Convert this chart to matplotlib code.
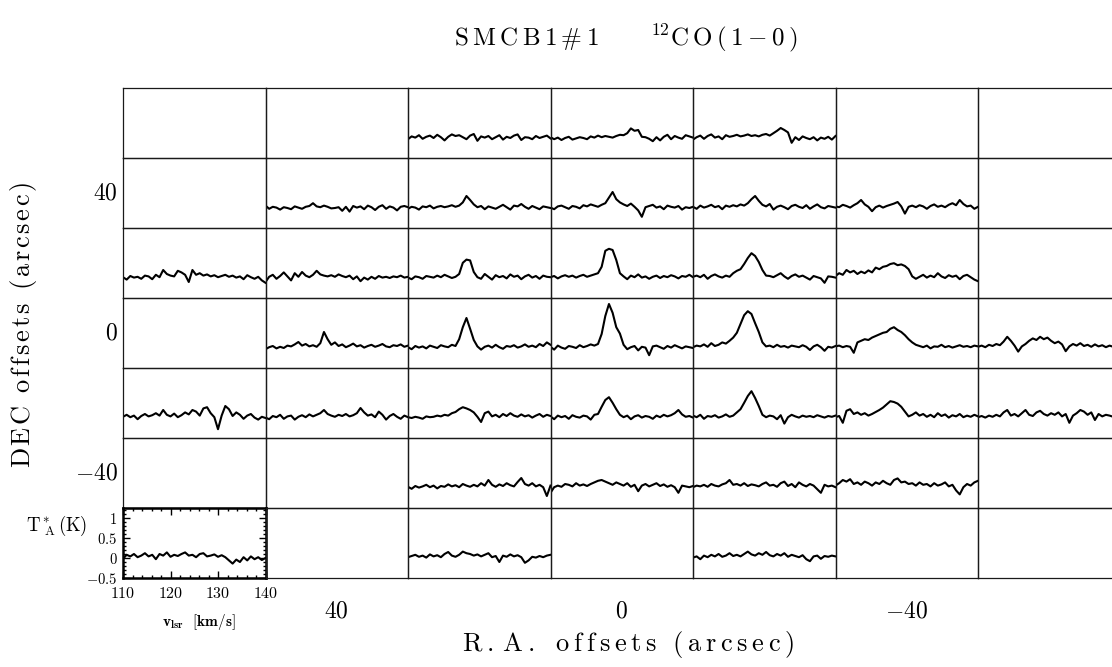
import numpy as np
import matplotlib.pyplot as plt
from matplotlib.ticker import MultipleLocator

plt.rcParams['mathtext.fontset'] = 'cm'

# grid of map positions (arcsec)
ra_offsets = [60, 40, 20, 0, -20, -40, -60]
dec_offsets = [60, 40, 20, 0, -20, -40, -60]

# velocity range of every spectrum (km/s) and T*A range (K)
v_range = (110, 140)
t_range = (-0.5, 1.25)

# spectra, T*A in units of 0.01 K, channels spread evenly over v_range
# DEC +60
t_p60_p20 = [-3, 4, 1, 7, -2, 3, 6, 0, 8, 2, -6, 3, 9, 5, 7, 2, -3, 6, 10, -7, 4, 1, 5, -3, 2, 7, -4, 3, 0, 6, 9, -5, 2, 1, -3, 5, 0, 3, 6, -1]
t_p60_0 = [2, -3, 1, -5, 0, 3, -4, -1, 2, 0, -3, 4, 1, 6, 2, 5, 3, 1, 5, 8, 7, 12, 24, 18, 20, 3, 2, -2, -8, 2, -6, 3, 8, -3, 5, 1, -2, 7, 4, 1]
t_p60_m20 = [-4, 2, 6, -2, 5, 9, 1, 4, -3, 7, 3, 5, 8, 4, 6, 9, 5, 7, 4, 8, 10, 6, 12, 18, 25, 20, 14, -12, 2, -5, 4, 0, -3, 2, -6, 1, -2, 3, -4, 5]
# DEC +40
t_p40_p40 = [6, -2, 3, 1, -4, 2, 0, -3, 4, 1, -2, 3, 5, 12, 4, 2, 6, 3, -1, 0, 2, -7, 3, -9, 5, 1, 4, -3, 6, 2, -5, 3, 7, -2, 4, 1, -6, 3, 5, 2]
t_p40_p20 = [-2, 3, 1, -4, 4, 2, 6, -1, 3, 5, 2, 4, 7, 3, 6, 14, 30, 20, 9, 2, 5, -3, 4, 1, -2, 3, 8, 2, -4, 6, 4, 10, 3, -2, 5, 1, -3, 4, 2, 0]
t_p40_0 = [1, -3, 4, 6, 2, -2, 5, 3, -1, 7, 4, 9, 6, 3, 8, 12, 26, 40, 22, 14, 9, 5, 11, 3, -6, -22, 2, 5, 8, 1, 4, -3, 6, 3, 1, 5, -4, 2, 0, 3]
t_p40_m20 = [3, -2, 6, 1, 4, 8, 2, 5, -3, 6, 3, 7, 4, 9, 6, 12, 22, 30, 18, 8, 4, 10, -4, 3, 6, 2, -3, 5, 8, 3, 0, 7, -2, 4, 9, 2, -1, 5, 3, 1]
t_p40_m40 = [4, 2, 8, 5, 1, 7, 12, 20, 9, 3, -8, 2, 6, 1, 5, 8, 11, 15, 4, -14, 3, 6, 2, 7, 4, -2, 5, 9, 3, 6, 2, 8, 12, 7, 20, 10, 4, 6, -2, 3]
# DEC +20
t_p20_p60 = [2, -4, 5, 1, 3, -2, 6, 4, -3, 8, 2, 20, 10, 6, 4, 18, 14, 8, -10, 20, 8, 12, 6, 9, 4, 7, 2, 5, 8, 3, 6, 1, 4, -3, 7, 2, -2, 3, -6, -12]
t_p20_p40 = [-10, 3, 8, -2, 5, 14, 4, -6, 12, 3, 15, 6, 2, 8, 18, 9, 6, 4, 7, 3, 9, 5, 2, 6, -3, 4, -8, 1, -4, 3, -2, 5, 1, 3, 0, 4, 2, 6, 1, 3]
t_p20_p20 = [1, -3, 4, 2, -2, 5, 3, 1, 6, 2, 8, 4, 0, 3, 10, 38, 46, 44, 15, 2, -2, 10, 3, -4, 7, 2, 5, -1, 9, 3, 6, -3, 4, 8, 1, 5, -2, 6, 3, 2]
t_p20_0 = [2, 5, -1, 4, 7, 3, 6, 1, 5, 8, 3, 6, 9, 12, 28, 68, 73, 70, 45, 12, 4, -3, 6, 2, 9, 1, 4, -2, 3, 6, 0, 5, 2, 7, 4, -1, 5, 3, 8, 2]
t_p20_m20 = [3, 6, 2, 8, -2, 5, 9, 4, 1, 6, 3, 12, 18, 22, 35, 50, 62, 55, 40, 20, 6, 5, 2, 7, 12, 4, -2, 5, 9, 3, 6, 1, -4, 5, 2, -1, -12, 4, 3, 1]
t_p20_m40 = [5, 12, 8, 20, 14, 18, 10, 16, 12, 19, 14, 26, 22, 28, 30, 35, 37, 32, 34, 30, 22, 4, -2, 3, 8, 1, 6, 2, 12, 4, 0, 7, 3, 6, -3, 5, 8, 2, -4, -8]
# DEC 0
t_0_p40 = [-3, 2, 5, -1, 3, 0, 6, 4, 9, 15, 6, 10, 4, 7, 3, 12, 40, 22, 8, 14, 5, 9, 2, 6, 11, 4, 7, 1, 5, 8, 3, 6, 10, 4, 2, 7, 5, 9, 3, 6]
t_0_p20 = [2, -3, 5, 1, 4, -1, 6, 3, 0, 7, 4, 2, 8, 5, 22, 52, 75, 48, 20, 4, -4, 3, 6, 1, 8, 2, -2, 5, 3, 7, 1, 4, 9, 3, 6, 2, 10, 5, 14, 8]
t_0_0 = [3, -4, 6, 1, -2, 5, 3, 0, 7, 2, 5, 9, 6, 10, 35, 80, 110, 88, 52, 36, 8, -3, 2, 5, -6, 3, 1, -18, 4, 6, 2, -2, 5, 1, 7, 3, -1, 4, 2, 0]
t_0_m20 = [2, 6, 4, 9, 3, 12, 5, 8, 14, 11, 18, 26, 38, 60, 82, 92, 85, 62, 40, 14, 4, 6, 2, 8, 3, 5, 1, 6, 4, 2, 7, 3, -5, 4, 8, 2, -7, 3, 1, 5]
t_0_m40 = [4, 6, 2, 5, 3, -12, 14, 18, 22, 20, 26, 30, 34, 38, 40, 48, 52, 45, 40, 32, 22, 14, 8, 5, 2, 6, -1, 4, 3, 8, 2, 5, 1, 4, 7, 3, 5, 2, 6, 4]
t_0_m60 = [3, 6, 2, 8, 5, 10, 7, 16, 28, 18, 6, -9, 4, 10, 18, 24, 20, 28, 22, 26, 18, 12, 16, 9, -8, 4, 10, 6, 12, 5, 8, 3, 9, 4, 7, 2, 6, 3, 5, 4]
# DEC -20
t_m20_p60 = [3, 8, 2, 6, -3, 5, 10, 4, 7, 12, 6, 20, 8, 4, 11, 2, 7, 14, 9, 20, 16, 6, 24, 27, 12, 2, -28, 6, 30, 22, 5, 14, 8, -2, 6, 10, 1, -4, 3, 0]
t_m20_p40 = [1, -3, 5, 2, 8, -2, 4, 6, -4, 3, 7, 2, 9, 4, 8, 12, 20, 10, 6, 3, 8, 5, 10, 4, 7, 12, 25, 14, 6, 9, 2, 16, 8, -4, 5, 10, 3, -2, 6, 2]
t_m20_p20 = [2, 0, 3, 1, -2, 4, 2, 3, 6, 4, 8, 6, 12, 15, 22, 27, 24, 20, 14, 3, -10, 12, 16, 4, 8, 2, 10, 5, 12, 6, 3, 9, 4, 7, 1, 6, 10, 3, 8, 5]
t_m20_0 = [4, -3, 6, 2, 5, -2, 7, 3, 1, 6, 4, -4, 8, 10, 28, 45, 52, 38, 22, 8, 2, 6, -3, 4, 7, 1, 5, 3, -2, 6, 2, 8, 4, 7, 12, 20, 9, 3, 5, 1]
t_m20_m20 = [6, 2, 8, -2, 5, 3, 7, 1, 4, 9, 3, 6, 14, 22, 38, 55, 67, 50, 30, 8, 2, 6, 4, -3, 7, -14, 2, 8, 4, 1, 6, 3, 5, 2, 7, 4, 1, 5, 3, 6]
t_m20_m40 = [2, 5, -12, 18, 22, 10, 14, 8, 12, 6, 10, 15, 20, 26, 34, 42, 40, 36, 28, 16, 4, 8, 14, 6, 10, 3, 8, 2, 12, 5, 9, 1, 7, 4, 10, 2, 6, 3, 8, 4]
t_m20_m60 = [2, 5, 1, 6, 3, 8, 4, 14, 20, 6, 10, 4, 12, 20, 8, 5, 14, 18, 10, 6, 12, 8, 14, 4, 10, -12, 6, 12, 20, 16, 8, 14, -5, 10, 4, 8, 6, 3, 5, 2]
# DEC -40
t_m40_p20 = [3, -2, 5, 1, 4, 8, 2, 6, -1, 5, 3, 9, 4, 7, 2, 10, 6, 3, 8, 4, 12, 6, 20, 8, 3, 9, 5, 12, 7, 4, 15, 25, 10, 6, 12, 4, 8, 2, -20, 6]
t_m40_0 = [-12, 2, 6, 3, 10, 8, 4, 12, 6, 9, 5, 10, 14, 18, 20, 16, 12, 8, 14, 10, 6, 12, 3, 8, -8, 6, 10, 4, 8, 12, 5, 9, 3, 7, 2, -12, 6, 4, 2, 5]
t_m40_m20 = [2, 6, 4, 8, 3, 10, 6, 4, 9, 12, 20, 8, 10, 6, 12, 5, 9, 7, 4, 10, 14, 6, 8, 3, 12, 16, 5, 10, 2, 14, 8, 4, 10, 6, -3, -12, 8, 4, 6, 2]
t_m40_m40 = [6, 12, 20, 16, 22, 10, 14, 8, 16, 12, 6, 14, 10, 18, 12, 8, 20, 24, 14, 16, 10, 12, 6, 14, 8, 10, 4, 12, 6, 9, 14, 4, 8, -6, -16, 2, 10, 6, 14, 18]
# DEC -60
t_m60_p60 = [-2, 8, 4, 10, 2, 6, 12, 4, 8, -3, 10, 6, 14, 3, 8, 5, 10, 14, 6, 8, 2, 10, 12, 4, 6, 9, 3, 7, 2, -6, -14, -4, -10, 2, -6, 4, -3, 2, -5, 0]
t_m60_p20 = [2, 5, 8, 3, 6, 1, 9, 4, 7, 2, 10, 15, 6, 3, 8, 16, 12, 10, 6, 9, 4, 8, 12, 2, 5, -10, 6, 3, 9, 4, 7, 2, -12, -6, 3, 1, 5, 2, 6, 8]
t_m60_m20 = [1, 4, -3, 6, 2, 8, 4, 10, 3, 6, 12, 5, 8, 4, 10, 16, 9, 6, 12, 8, 15, 7, 4, 10, 6, 12, 3, 8, 5, 2, 7, -3, -8, 4, 6, -2, 5, 3, 6, 4]

# (dec, ra, spectrum)
spectra = [
    (60, 20, t_p60_p20), (60, 0, t_p60_0), (60, -20, t_p60_m20),
    (40, 40, t_p40_p40), (40, 20, t_p40_p20), (40, 0, t_p40_0), (40, -20, t_p40_m20), (40, -40, t_p40_m40),
    (20, 60, t_p20_p60), (20, 40, t_p20_p40), (20, 20, t_p20_p20), (20, 0, t_p20_0), (20, -20, t_p20_m20), (20, -40, t_p20_m40),
    (0, 40, t_0_p40), (0, 20, t_0_p20), (0, 0, t_0_0), (0, -20, t_0_m20), (0, -40, t_0_m40), (0, -60, t_0_m60),
    (-20, 60, t_m20_p60), (-20, 40, t_m20_p40), (-20, 20, t_m20_p20), (-20, 0, t_m20_0), (-20, -20, t_m20_m20), (-20, -40, t_m20_m40), (-20, -60, t_m20_m60),
    (-40, 20, t_m40_p20), (-40, 0, t_m40_0), (-40, -20, t_m40_m20), (-40, -40, t_m40_m40),
    (-60, 60, t_m60_p60), (-60, 20, t_m60_p20), (-60, -20, t_m60_m20),
]

ra_ticks = [40, 0, -40]
dec_ticks = [40, 0, -40]

W, H = 1112, 667
x0, y0, cw, ch = 123, 88, 142.5, 70   # grid geometry in pixels


def cell_rect(col, row):
    return [(x0 + col * cw) / W, 1 - (y0 + (row + 1) * ch) / H, cw / W, ch / H]


def tracked(s, gap):
    # roman text with a little extra space between letters
    parts = []
    for c in s:
        if c == ' ':
            parts.append(r'\ ')
        elif c == '#':
            parts.append(r'\mathrm{\#}')
        else:
            parts.append(r'\mathrm{%s}' % c)
    return (r'\hspace{%g}' % gap).join(parts)


fig = plt.figure(figsize=(W / 100, H / 100), dpi=100)

axes = {}
for row, dec in enumerate(dec_offsets):
    for col, ra in enumerate(ra_offsets):
        ax = fig.add_axes(cell_rect(col, row))
        ax.set_xlim(*v_range)
        ax.set_ylim(*t_range)
        ax.set_xticks([])
        ax.set_yticks([])
        for s in ax.spines.values():
            s.set_linewidth(0.9)
            s.set_color('0.1')
        ax.patch.set_alpha(0)
        axes[(dec, ra)] = ax

for dec, ra, vals in spectra:
    t = np.array(vals) / 100.0
    v = np.linspace(v_range[0], v_range[1], len(t))
    axes[(dec, ra)].plot(v, t, color='k', lw=1.5)

# the reference cell with axes
ref = axes[(-60, 60)]
for s in ref.spines.values():
    s.set_linewidth(1.8)
    s.set_color('k')
ref.set_xticks([110, 120, 130, 140])
ref.set_xticklabels([r'$\mathbf{%d}$' % v for v in [110, 120, 130, 140]], fontsize=11.5)
ref.set_yticks([-0.5, 0, 0.5, 1])
ref.set_yticklabels([r'$\mathbf{-0.5}$', r'$\mathbf{0}$', r'$\mathbf{0.5}$', r'$\mathbf{1}$'], fontsize=10.5)
ref.xaxis.set_minor_locator(MultipleLocator(2))
ref.yaxis.set_minor_locator(MultipleLocator(0.1))
ref.tick_params(which='both', direction='in', top=True, right=True, width=1.0)
ref.tick_params(which='major', length=5)
ref.tick_params(axis='x', which='major', pad=6)
ref.tick_params(axis='y', which='major', pad=4)
ref.tick_params(which='minor', length=2.5)
fig.text(57 / W, 1 - 526 / H, r'$\mathrm{T^*_{\ A}\,(K)}$', fontsize=13.5, ha='center', va='center')
fig.text(199 / W, 1 - 622 / H, r'$\mathbf{v_{lsr}}\ \ \mathbf{[km/s]}$', fontsize=11, ha='center', va='center')

# offset labels
for ra in ra_ticks:
    col = ra_offsets.index(ra)
    xc = (x0 + (col + 0.5) * cw) / W
    fig.text(xc, 1 - 611 / H, '$%d$' % ra, fontsize=17, ha='center', va='center')
for dec in dec_ticks:
    row = dec_offsets.index(dec)
    yc = 1 - (y0 + (row + 0.5) * ch) / H
    fig.text(118 / W, yc, '$%d$' % dec, fontsize=17, ha='right', va='center')

fig.text(628 / W, 1 - 645 / H, '$' + tracked('R.A. offsets (arcsec)', 0.2) + '$',
         fontsize=19, ha='center', va='center')
fig.text(24 / W, 1 - 325 / H, '$' + tracked('DEC offsets (arcsec)', 0.12) + '$',
         fontsize=19, ha='center', va='center', rotation=90)
title = '$' + tracked('SMCB1#1', 0.2) + r'\qquad\ {}^{12}' + tracked('CO(1-0)', 0.2) + '$'
fig.text(626 / W, 1 - 38 / H, title, fontsize=18, ha='center', va='center')

fig.savefig('out.png', dpi=100)
